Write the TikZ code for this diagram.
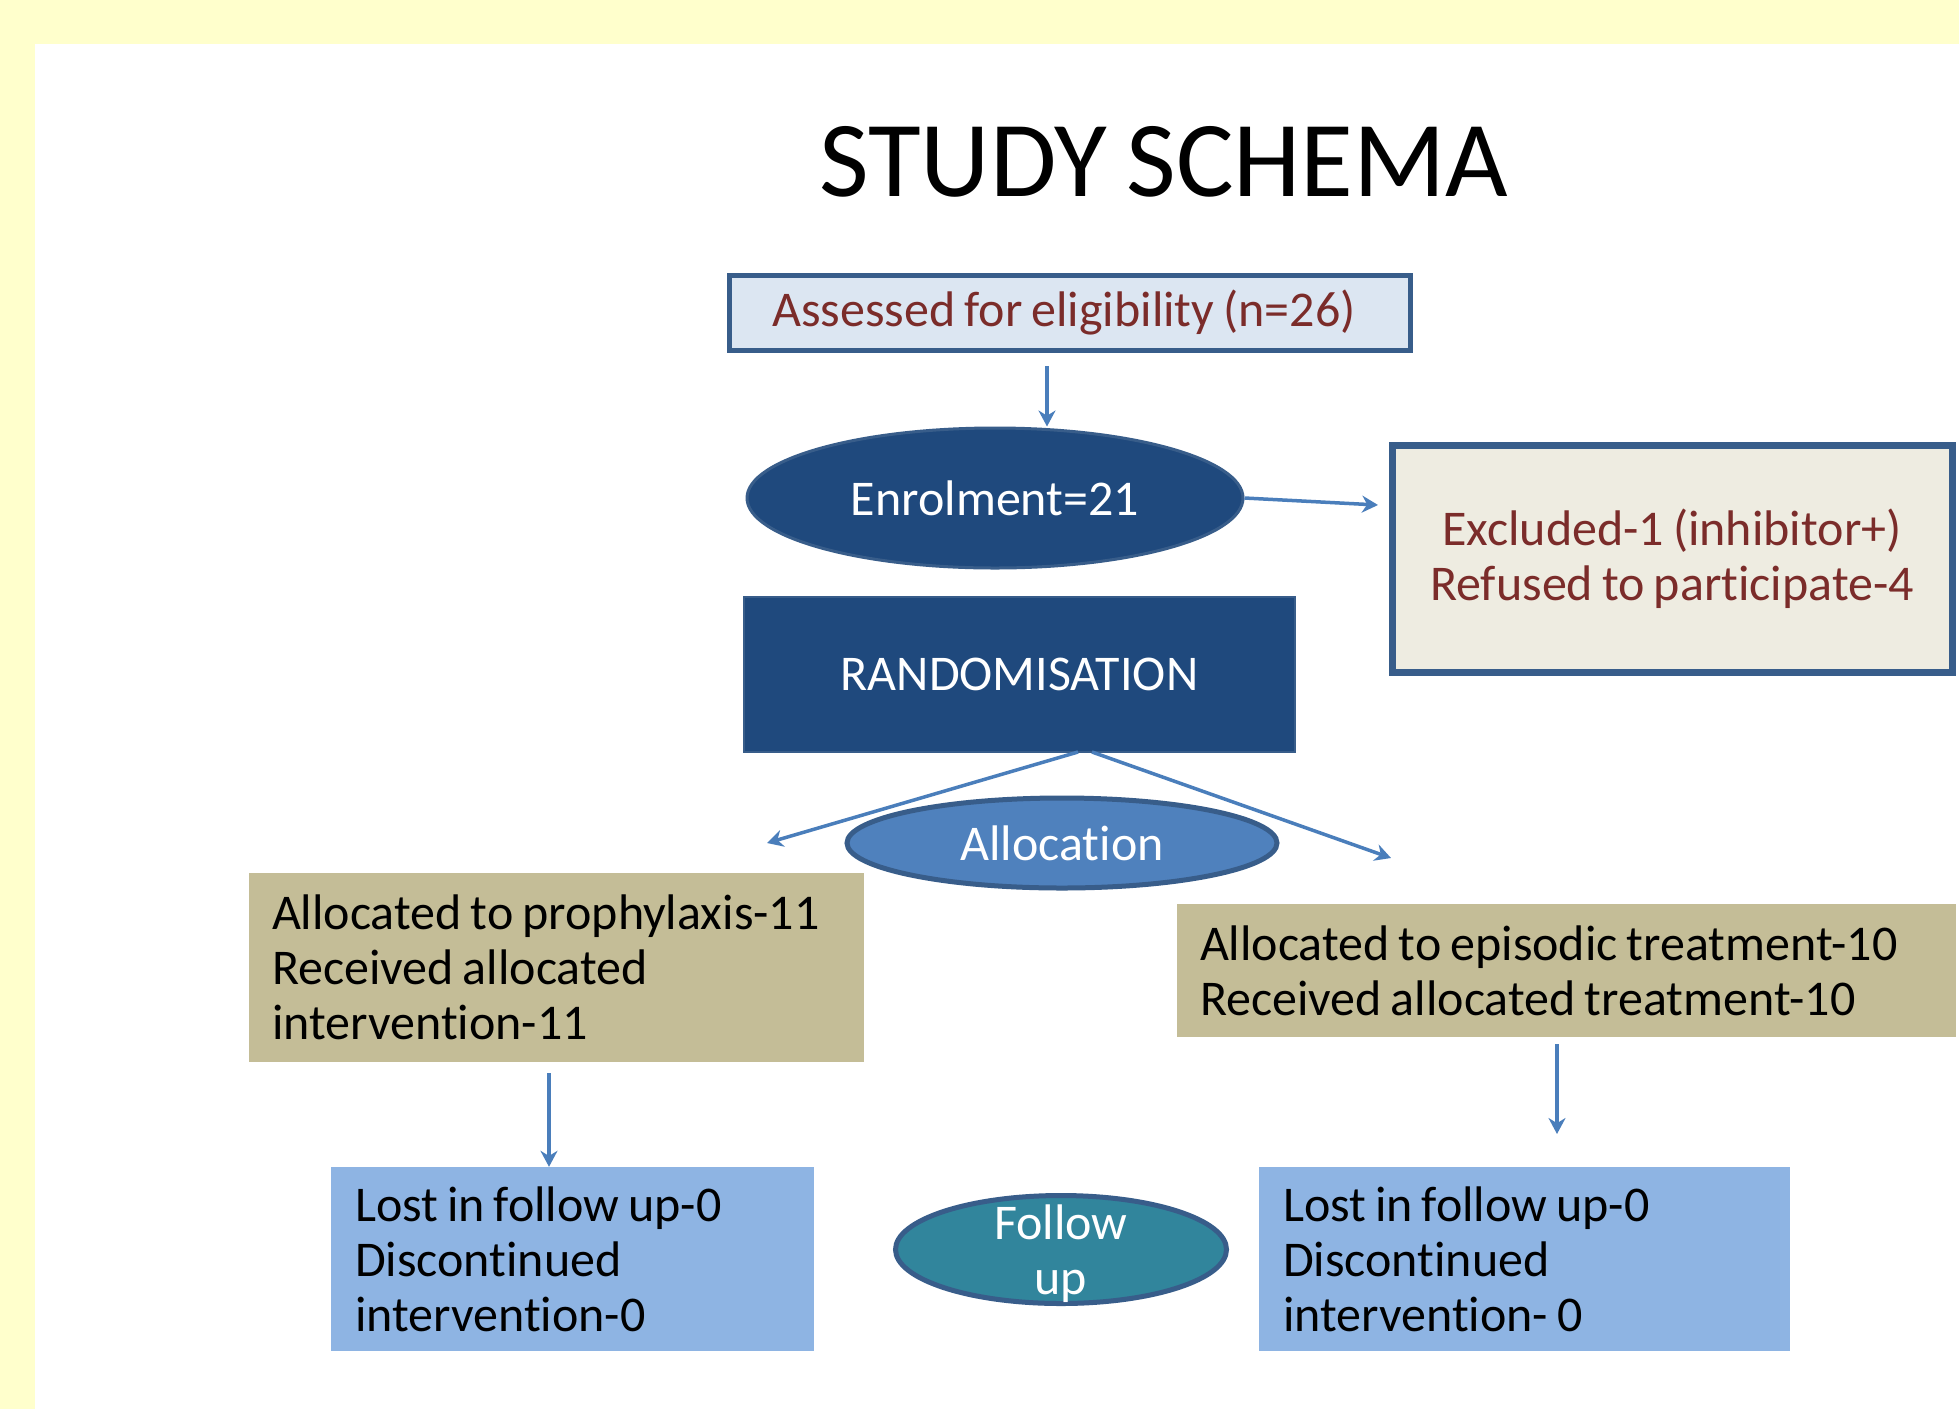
\documentclass[tikz,border=0pt]{standalone}
\usepackage{fontspec}
\setmainfont{Carlito}[Ligatures=NoCommon, WordSpace={0.8,0,0}]
\usetikzlibrary{shapes.geometric,arrows.meta,calc}
\definecolor{bgyellow}{HTML}{FFFFCC}
\definecolor{navy}{HTML}{1F497D}
\definecolor{navyedge}{HTML}{385D8A}
\definecolor{palebox}{HTML}{DCE6F2}
\definecolor{creambox}{HTML}{EEECE1}
\definecolor{darkred}{HTML}{7B2C2A}
\definecolor{midblue}{HTML}{4F81BD}
\definecolor{arrowblue}{HTML}{4A7EBB}
\definecolor{khaki}{HTML}{C4BD97}
\definecolor{lightblue}{HTML}{8EB4E3}
\definecolor{teal}{HTML}{31859C}
\newcommand\tightsp{\spaceskip=0pt\xspaceskip=0pt\relax}
\begin{document}
\begin{tikzpicture}[x=1pt,y=-1pt,
  every node/.style={font=\fontsize{50}{55}\selectfont},
  framebox/.style={rectangle, draw=navyedge, inner sep=0pt, align=center},
  darkbox/.style={rectangle, fill=navy, draw=navyedge, line width=2pt, text=white, inner sep=0pt},
  oval/.style={ellipse, inner sep=0pt, text=white, align=center},
  plainbox/.style={rectangle, inner xsep=23pt, inner ysep=0pt, align=left, text=black},
  arr/.style={draw=arrowblue, line width=3.5pt, -{Stealth[length=16pt,width=17pt]}}
]
\useasboundingbox (0,0) rectangle (1959,1409);
\fill[bgyellow] (0,0) rectangle (1959,1409);
\fill[white] (35,44) rectangle (1959,1409);

\node[font=\fontsize{108}{120}\selectfont] (title) at (1164,162) {STUDY SCHEMA};

\node[framebox, fill=palebox, line width=5pt, text=darkred,
  minimum width=681pt, minimum height=75pt] (assess) at (1070,313)
  {Assessed for eligibility (n=26)\hspace*{12pt}};

\node[oval, fill=navy, draw=navyedge, line width=3pt,
  minimum width=496pt, minimum height=140pt] (enrol) at (995,498) {Enrolment=21};

\node[framebox, fill=creambox, line width=7pt, text=darkred,
  minimum width=560pt, minimum height=227pt] (excl) at (1672,559)
  {Excluded-1 (inhibitor+)\\Refused to participate-4};

\node[darkbox, minimum width=551pt, minimum height=155pt] (rand) at (1019.5,674.5)
  {RANDOMISATION};

\node[oval, fill=midblue, draw=navyedge, line width=5pt,
  minimum width=430pt, minimum height=90pt] (alloc) at (1062,843) {Allocation};

\node[plainbox, fill=khaki, text width=569pt, minimum height=189pt] (palloc) at (556.5,967.5)
  {\tightsp Allocated to prophylaxis-11\\Received allocated\\intervention-11};

\node[plainbox, fill=khaki, text width=733pt, minimum height=133pt] (ealloc) at (1566.5,970.5)
  {\tightsp Allocated to episodic treatment-10\\Received allocated treatment-10};

\node[plainbox, inner xsep=24pt, fill=lightblue, text width=435pt, minimum height=184pt] (llost) at (572.5,1259)
  {\tightsp Lost in follow up-0\\Discontinued\\intervention-0};

\node[plainbox, inner xsep=24pt, fill=lightblue, text width=483pt, minimum height=184pt] (rlost) at (1524.5,1259)
  {\tightsp Lost in follow up-0\\Discontinued\\intervention- 0};

\node[oval, fill=teal, draw=navyedge, line width=5pt,
  minimum width=331pt, minimum height=108pt,
  label={[align=center, text=white, yshift=-4pt]center:Follow\\up}] (follow) at (1061,1249.5) {};

\coordinate (c1) at (1047,366);
\coordinate (c2) at (1378,505);
\coordinate (c3) at (1078,752);
\coordinate (c4) at (767,843);
\coordinate (c5) at (1092,752);
\coordinate (c6) at (1391,858);
\coordinate (c7) at (549,1073);
\coordinate (c8) at (1557,1044);
\coordinate (c9) at (1557,1134);

\draw[arr] (c1) -- (enrol.north -| c1);
\draw[arr] (enrol.east) -- (c2);
\draw[arr] (c3) -- (c4);
\draw[arr] (c5) -- (c6);
\draw[arr] (c7) -- (llost.north -| c7);
\draw[arr] (c8) -- (c9);
\end{tikzpicture}
\end{document}
